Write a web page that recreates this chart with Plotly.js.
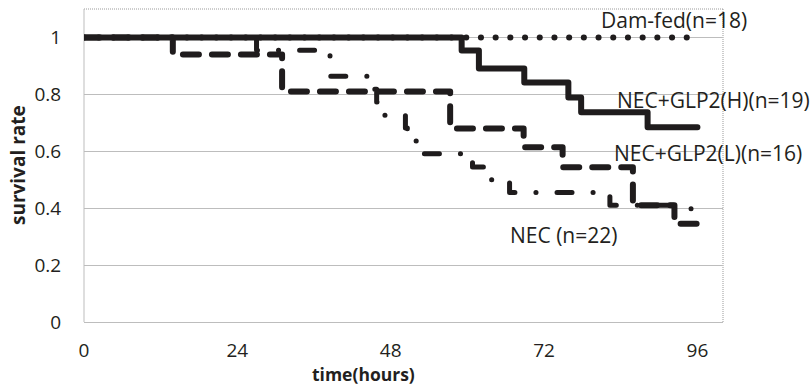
<!DOCTYPE html>
<html>
<head>
<meta charset="utf-8">
<script src="https://cdn.plot.ly/plotly-3.0.1.min.js"></script>
<style>
html,body{margin:0;padding:0;background:#fff;}
#chart{width:812px;height:386px;}
.js-line{stroke-linecap:round;stroke-linejoin:round;}
</style>
</head>
<body>
<div id="chart"></div>
<script>
// Data (time in hours, survival rate)
const damTime = [0, 96];
const damSurv = [1, 1];

const glp2hTime = [0, 59.1, 61.8, 68.9, 75.8, 77.8, 88.2, 96];
const glp2hSurv = [1, 0.954, 0.891, 0.842, 0.789, 0.737, 0.684, 0.684];

const glp2lTime = [0, 13.9, 31, 57.3, 68.8, 74.9, 85.9, 92.4, 96];
const glp2lSurv = [1, 0.94, 0.81, 0.68, 0.614, 0.544, 0.41, 0.345, 0.345];

const necTime = [0, 27, 38.5, 45.5, 45.8, 46.5, 50.3, 50.6, 52, 60.8, 62.5, 66.6, 82.3, 95, 96];
const necSurv = [1, 0.955, 0.864, 0.818, 0.773, 0.727, 0.682, 0.636, 0.591, 0.545, 0.5, 0.455, 0.41, 0.36, 0.36];

const xTicks = [0, 24, 48, 72, 96];
const yTicks = [0, 0.2, 0.4, 0.6, 0.8, 1];
const yTickText = ['0', '0.2', '0.4', '0.6', '0.8', '1'];

const labels = ['Dam-fed(n=18)', 'NEC+GLP2(H)(n=19)', 'NEC+GLP2(L)(n=16)', 'NEC (n=22)'];

const lineColor = '#1f1c1d';
const textColor = '#231f20';
const gridColor = '#bdbdbd';
const font = 'Open Sans, Noto Sans, sans-serif';

const traces = [
  {x: damTime, y: damSurv, mode: 'lines', line: {shape: 'hv', color: lineColor, width: 6, dash: '0.1px,14.6px'}},
  {x: glp2lTime, y: glp2lSurv, mode: 'lines', line: {shape: 'hv', color: lineColor, width: 6, dash: '16px,13px'}},
  {x: necTime, y: necSurv, mode: 'lines', line: {shape: 'hv', color: lineColor, width: 5, dash: '15px,21px,0.1px,21px'}},
  {x: glp2hTime, y: glp2hSurv, mode: 'lines', line: {shape: 'hv', color: lineColor, width: 6}}
];

const layout = {
  width: 812, height: 386,
  margin: {l: 83.5, r: 89, t: 9, b: 64},
  paper_bgcolor: '#fff', plot_bgcolor: '#fff',
  showlegend: false,
  font: {family: font, color: textColor, size: 19},
  xaxis: {
    range: [0, 100], tickvals: xTicks, ticktext: xTicks.map(String),
    showgrid: false, zeroline: false, showline: false,
    ticks: 'outside', ticklen: 11, tickcolor: 'rgba(0,0,0,0)',
    tickfont: {size: 19, family: font, color: textColor}
  },
  yaxis: {
    range: [0, 1.1], tickvals: yTicks, ticktext: yTickText,
    showgrid: true, gridcolor: gridColor, gridwidth: 1,
    zeroline: true, zerolinecolor: gridColor, zerolinewidth: 1,
    showline: false,
    ticks: 'outside', ticklen: 18, tickcolor: 'rgba(0,0,0,0)',
    tickfont: {size: 19, family: font, color: textColor}
  },
  shapes: [
    {type: 'line', xref: 'paper', yref: 'paper', x0: 0, x1: 1, y0: 1, y1: 1, line: {color: '#9a9a9a', width: 1, dash: '1px,1px'}, layer: 'below'},
    {type: 'line', xref: 'paper', yref: 'paper', x0: 1, x1: 1, y0: 0, y1: 1, line: {color: '#9a9a9a', width: 1, dash: '1px,1px'}, layer: 'below'},
    {type: 'line', xref: 'paper', yref: 'paper', x0: 0, x1: 0, y0: 0, y1: 1, line: {color: gridColor, width: 1}, layer: 'below'}
  ],
  annotations: [
    {text: labels[0], x: 599, y: 19.5},
    {text: labels[1], x: 615, y: 100},
    {text: labels[2], x: 612, y: 153},
    {text: labels[3], x: 508, y: 235},
    {text: '<b>survival rate</b>', x: 17, y: 165.5, textangle: -90, xanchor: 'center', size: 19},
    {text: '<b>time(hours)</b>', x: 363, y: 374, xanchor: 'center', size: 17.5}
  ].map(a => ({
    text: a.text, xref: 'paper', yref: 'paper',
    x: (a.x - 83.5) / (812 - 83.5 - 89),
    y: 1 - (a.y - 9) / (386 - 9 - 64),
    xanchor: a.xanchor || 'left', yanchor: 'middle',
    textangle: a.textangle || 0,
    showarrow: false,
    font: {family: font, size: a.size || 21, color: textColor}
  }))
};

Plotly.newPlot('chart', traces, layout, {displayModeBar: false, staticPlot: true});
</script>
</body>
</html>
